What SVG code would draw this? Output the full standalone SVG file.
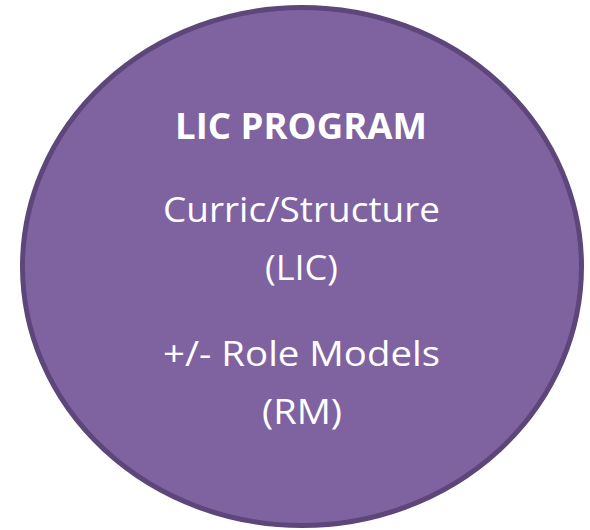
<svg xmlns="http://www.w3.org/2000/svg" width="590" height="530" viewBox="0 0 590 530">
<style>
.c{fill:#7F63A1;stroke:#5D4679;stroke-width:5}
.t{font-family:"Open Sans","Noto Sans","Liberation Sans",sans-serif;fill:#FFFFFF;text-anchor:middle;font-size:35px}
.b{font-weight:bold}
</style>
<rect width="590" height="530" fill="#FFFFFF"/>
<g id="lic-program">
<ellipse class="c" cx="302" cy="266.5" rx="279.5" ry="259"/>
<text class="t b" x="301" y="139" textLength="252" lengthAdjust="spacingAndGlyphs">LIC PROGRAM</text>
<text class="t" x="301.5" y="222" textLength="277" lengthAdjust="spacingAndGlyphs">Curric/Structure</text>
<text class="t" x="301.5" y="280" textLength="73" lengthAdjust="spacingAndGlyphs">(LIC)</text>
<text class="t" x="301.5" y="366" textLength="277" lengthAdjust="spacingAndGlyphs">+/- Role Models</text>
<text class="t" x="302" y="424" textLength="80" lengthAdjust="spacingAndGlyphs">(RM)</text>
</g>
<g id="connectors"/>
</svg>
